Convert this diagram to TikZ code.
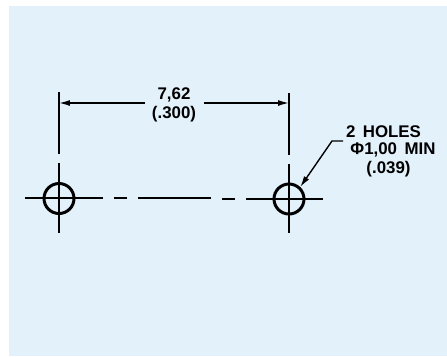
\documentclass[tikz,border=0pt]{standalone}
\usepackage{fontspec}
\usetikzlibrary{arrows.meta}
\setmainfont{Liberation Sans}
\definecolor{panelblue}{HTML}{E3F1FB}
\tikzset{
  hole/.style = {circle, draw, line width = 1.7pt, minimum size = 0.6cm, inner sep = 0pt},
  thinline/.style = {line width = 0.8pt, color = black},
  dimarrow/.style = {-{Latex[length = 2.2mm, width = 1.2mm]}},
  label/.style = {inner sep = 0pt, font = \fontsize{9.6}{11}\selectfont\bfseries}
}
\begin{document}
\begin{tikzpicture}[x = 0.02cm, y = -0.02cm]
\useasboundingbox (0, 0) rectangle (447, 356);
\fill[panelblue] (9, 6) rectangle (447, 356);
% holes
\node (lefthole) at (59, 198.5) [hole] {};
\node (righthole) at (289, 199) [hole] {};
% witness lines
\draw[thinline] (59, 92) -- (59, 154);
\draw[thinline] (59, 163) -- (59, 233);
\draw[thinline] (289, 93) -- (289, 155);
\draw[thinline] (289, 164) -- (289, 233);
% center line
\draw[thinline] (25, 198) -- (103, 198);
\draw[thinline] (114, 198) -- (127, 198);
\draw[thinline] (138, 198) -- (211, 198);
\draw[thinline] (222, 199) -- (235, 199);
\draw[thinline] (246, 199) -- (323, 199);
% dimension
\node (dimtop) at (174, 95) [label] {7,62};
\node (dimbot) at (174, 114) [label] {(.300)};
\coordinate (dimleft) at (59, 103);
\coordinate (dimright) at (289, 103);
\coordinate (dimla) at (145, 103);
\coordinate (dimra) at (204, 103);
\draw[thinline, dimarrow] (dimla) -- (dimleft);
\draw[thinline, dimarrow] (dimra) -- (dimright);
% leader
\node (holesa) at (383.5, 132) [label] {2 \,HOLES};
\node (holesb) at (393, 150) [label] {Φ1,00 \,MIN};
\node (holesc) at (388.5, 169) [label] {(.039)};
\coordinate (leadera) at (343, 141);
\coordinate (leaderb) at (332, 141);
\draw[thinline, dimarrow] (leadera) -- (leaderb) -- (righthole.47);
\end{tikzpicture}
\end{document}
